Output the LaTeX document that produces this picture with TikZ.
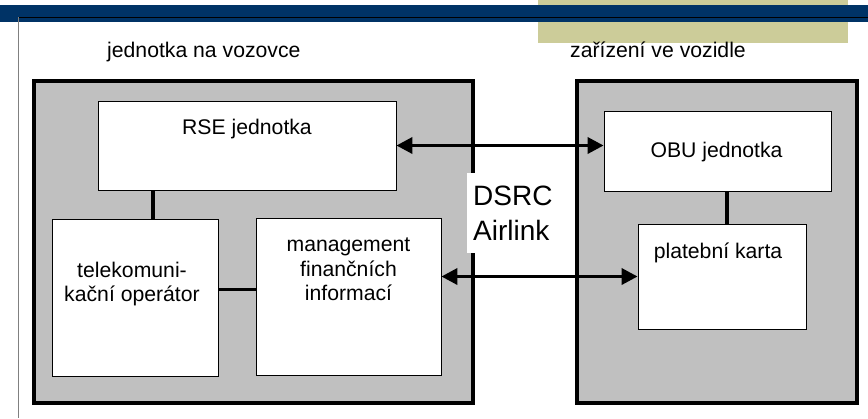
\documentclass[tikz,border=0pt]{standalone}
\usepackage{xcolor}
\usepackage{fontspec}
\setmainfont{Liberation Sans}
\usepackage{tikz}
\usetikzlibrary{arrows.meta,positioning,calc}
\definecolor{slidenavy}{HTML}{003366}
\definecolor{slidekhaki}{HTML}{CCCC99}
\definecolor{unitgray}{HTML}{C0C0C0}
\definecolor{framegray}{HTML}{808080}

\begin{document}
\begin{tikzpicture}[
    x=1bp, y=-1bp,
    unit/.style={rectangle, draw=black, fill=unitgray, line width=4bp, inner sep=0pt},
    block/.style={rectangle, draw=black, fill=white, line width=0.8bp, inner sep=0pt},
    txt/.style={font=\fontsize{21.2bp}{24.5bp}\selectfont, inner sep=0pt, align=center},
    wire/.style={line width=3.5bp, color=black},
    airlink/.style={<->, >={Triangle[length=16bp,width=16bp]}, line width=3.5bp, color=black}
]
    \useasboundingbox (0,0) rectangle (868,418);

    % Slide header
    \fill[slidekhaki] (538,0) rectangle (848,43);
    \fill[slidenavy] (0,5) rectangle (868,22);
    \draw[black, line width=0.8bp] (868,17) -- (18.5,17);
    \draw[framegray, line width=1.4bp] (18.5,17) -- (18.5,418);

    % Titles
    \node[txt, anchor=base west] (roadtitle) at (107,57) {jednotka na vozovce};
    \node[txt, anchor=base west] (cartitle) at (570,57) {zařízení ve vozidle};

    % Roadside unit
    \node[unit, minimum width=439bp, minimum height=322bp] (road) at (253.5,242) {};
    \node[block, minimum width=298bp, minimum height=89bp] (rse) at (247,145.5) {};
    \node[block, minimum width=166bp, minimum height=157bp] (tele) at (135,297.5) {};
    \node[block, minimum width=185bp, minimum height=157bp] (mgmt) at (348.5,296.5) {};
    \node[txt, anchor=base] (rsetxt) at ($(rse.north)+(0,34)$) {RSE jednotka};
    \node[txt] (teletxt) at ($(tele.north)+(-3,65.5)$) {telekomuni-\\kační operátor};
    \node[txt] (mgmttxt) at ($(mgmt.north)+(0,52)$) {management\\finančních\\informací};

    % On-board unit
    \node[unit, minimum width=280bp, minimum height=322bp] (car) at (717,242) {};
    \node[block, minimum width=227bp, minimum height=80bp] (obu) at (717.5,151) {};
    \node[block, minimum width=168bp, minimum height=105bp] (plat) at (722,276.5) {};
    \node[txt, anchor=base] (obutxt) at ($(obu)+(-1,6)$) {OBU jednotka};
    \node[txt, anchor=base] (plattxt) at ($(plat.north)+(-4,35)$) {platební karta};

    % Internal links
    \draw[wire] ([xshift=18bp]tele.north) -- ([xshift=18bp]tele.north |- rse.south);
    \draw[wire] ([yshift=8bp]tele.east) -- ([yshift=8bp]tele.east -| mgmt.west);
    \draw[wire] ([xshift=5bp]plat.north) -- ([xshift=5bp]plat.north |- obu.south);

    % Air interface
    \node[fill=white, anchor=west, inner xsep=6bp, inner ysep=0pt, minimum height=80bp,
          align=left, font=\fontsize{28bp}{35bp}\selectfont] (dsrc) at (467,213) {DSRC\\Airlink};
    \draw[airlink] (rse.east) -- (rse.east -| obu.west);
    \draw[airlink] (plat.west -| mgmt.east) -- (plat.west);
\end{tikzpicture}
\end{document}
